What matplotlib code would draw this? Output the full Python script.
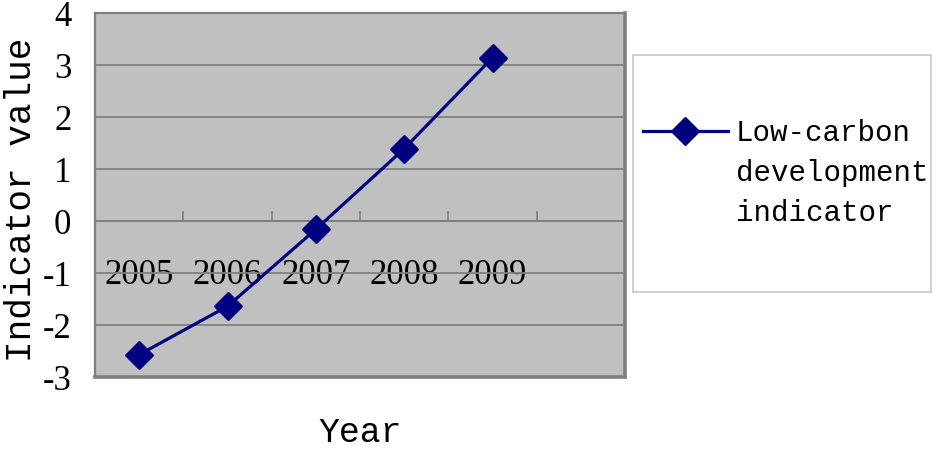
import matplotlib
matplotlib.use("Agg")
import matplotlib.pyplot as plt
from matplotlib.patches import Rectangle
from matplotlib.legend_handler import HandlerLine2D

years = ["2005", "2006", "2007", "2008", "2009"]
values = [-2.57, -1.64, -0.16, 1.39, 3.14]
series_name = "Low-carbon\ndevelopment\nindicator"
y_ticks = [-3, -2, -1, 0, 1, 2, 3, 4]


class HandlerFirstLine(HandlerLine2D):
    def __init__(self, dy, **kw):
        super().__init__(**kw)
        self.dy = dy

    def create_artists(self, legend, orig_handle, xdescent, ydescent,
                       width, height, fontsize, trans):
        return super().create_artists(legend, orig_handle, xdescent,
                                      ydescent - self.dy, width, height,
                                      fontsize, trans)


fig = plt.figure(figsize=(9.32, 4.5), dpi=100)
ax = fig.add_axes([95/932, 1-377/450, (625-95)/932, (377-13)/450])
ax.set_facecolor("#C0C0C0")

x = list(range(len(years)))
line, = ax.plot(x, values, color="#000080", lw=2.3, marker="D", ms=14,
                label=series_name, zorder=5, clip_on=False)

ax.set_xlim(-0.5, 5.5)
ax.set_ylim(-3, 4)
ax.set_yticks(y_ticks)
ax.set_yticklabels([str(t) for t in y_ticks], fontfamily="Liberation Serif", fontsize=25)
ax.tick_params(axis="y", length=0, pad=17)
ax.set_xticks([])
ax.grid(axis="y", color="#808080", lw=1.3)
ax.set_axisbelow(True)
for s in ["left", "top"]:
    ax.spines[s].set_color("#808080")
    ax.spines[s].set_linewidth(1.6)
for s in ["right", "bottom"]:
    ax.spines[s].set_color("#808080")
    ax.spines[s].set_linewidth(2.6)

# category axis crossing at y = 0
ax2 = ax.secondary_xaxis(3/7)
ax2.set_xticks(x, labels=years)
ax2.set_xticks([i + 0.5 for i in x], minor=True)
ax2.tick_params(which="major", length=0, pad=27)
ax2.tick_params(which="minor", direction="in", length=7, color="#808080", width=1.2)
ax2.spines["bottom"].set_color("#808080")
ax2.spines["bottom"].set_linewidth(1.3)
for lab in ax2.get_xticklabels():
    lab.set_fontfamily("Liberation Serif")
    lab.set_fontsize(25)

ax.set_ylabel("Indicator value", fontfamily="Liberation Mono", fontsize=26)
ax.yaxis.set_label_coords((22-95)/530, (377-200)/364)
ax.yaxis.label.set_va("center")
ax.set_xlabel("Year", fontfamily="Liberation Mono", fontsize=25)
ax.xaxis.set_label_coords(0.5, (377-433)/364)
ax.xaxis.label.set_va("center")

# legend
fig.patches.append(Rectangle((633/932, 1-292/450), (931-633)/932, (292-55)/450,
                             transform=fig.transFigure, facecolor="white",
                             edgecolor="#C8C8C8", lw=1.2))
leg = fig.legend(loc="center left", bbox_to_anchor=(643/932, 1-173/450),
                 prop={"family": "Liberation Mono", "size": 21},
                 frameon=False, handlelength=2.9, handletextpad=0.28,
                 borderaxespad=0, borderpad=0,
                 handler_map={line: HandlerFirstLine(62)})
for t in leg.get_texts():
    t.set_linespacing(1.55)

fig.savefig("out.png", dpi=100)
